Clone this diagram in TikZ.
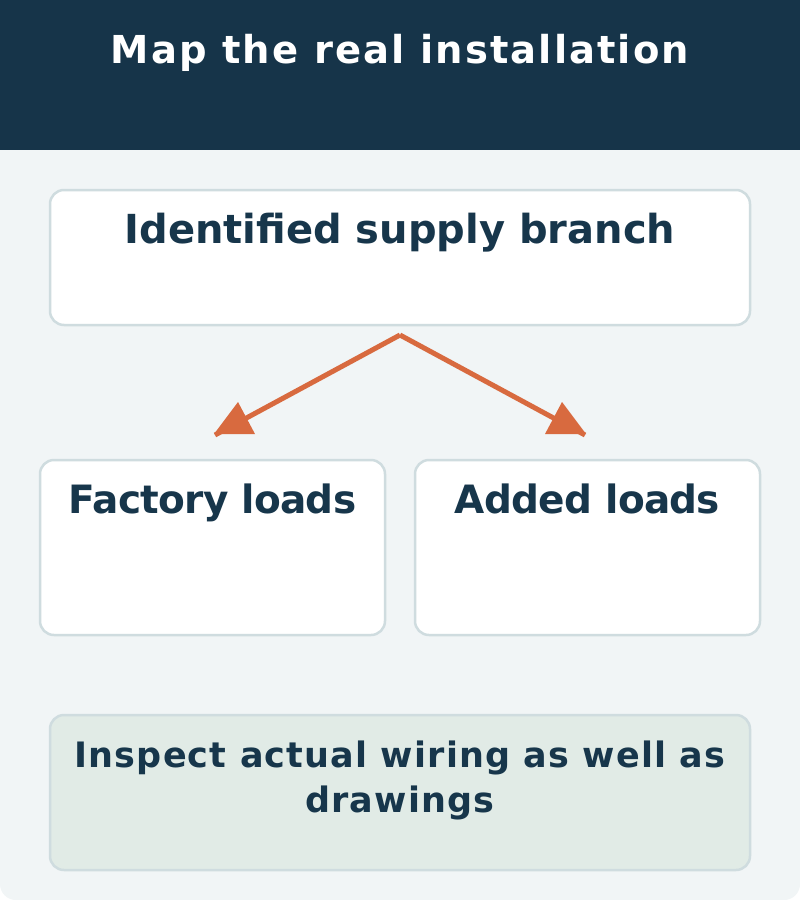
\documentclass[tikz,border=0pt]{standalone}
\usepackage{fontspec}
\setmainfont{DejaVu Sans}
\newfontfamily\titlefont{DejaVu Sans}[LetterSpace=5.5]
\newfontfamily\tightfont{DejaVu Sans}[LetterSpace=-1.8]
\newfontfamily\notefont{DejaVu Sans}[LetterSpace=3.4]
\definecolor{hdr}{HTML}{163449}
\definecolor{bgc}{HTML}{F1F5F6}
\definecolor{bord}{HTML}{CFDCDF}
\definecolor{note}{HTML}{E1EBE6}
\definecolor{txt}{HTML}{17364B}
\definecolor{arr}{HTML}{D86A3F}
\begin{document}
\begin{tikzpicture}[x=1pt,y=-1pt,
  card/.style={draw=bord,line width=2.5pt,rounded corners=14pt},
  head/.style={anchor=base,text=txt,font=\fontsize{40}{48}\selectfont\bfseries,inner sep=0pt},
  link/.style={draw=arr,line width=5pt},
  tip/.style={fill=arr}]
\useasboundingbox (0,0) rectangle (800,900);
\fill[white] (0,0) rectangle (800,900);
\fill[bgc,rounded corners=16pt] (0,0) rectangle (800,900);
\fill[hdr] (0,0) rectangle (800,150);
\node[anchor=base,text=white,font=\titlefont\fontsize{38.5}{45}\selectfont\bfseries,inner sep=0pt] (title) at (400,63) {Map the real installation};
\draw[card,fill=white] (50,190) rectangle (750,325);
\node[head] (branch) at (400,243) {Identified supply branch};
\draw[card,fill=white] (40,460) rectangle (385,635);
\node[head,font=\tightfont\fontsize{39}{47}\selectfont\bfseries] (factory) at (212.5,513) {Factory loads};
\draw[card,fill=white] (415,460) rectangle (760,635);
\node[head,font=\tightfont\fontsize{39}{47}\selectfont\bfseries] (added) at (587.5,513) {Added loads};
\draw[card,fill=note] (50,715) rectangle (750,870);
\node[head,font=\notefont\fontsize{35}{45}\selectfont\bfseries] (insp1) at (400,767) {Inspect actual wiring as well as};
\node[head,font=\notefont\fontsize{35}{45}\selectfont\bfseries] (insp2) at (400,812) {drawings};
\coordinate (src) at (400,335);
\coordinate (lend) at (215,435);
\coordinate (rend) at (585,435);
\draw[link] (src) -- (lend);
\draw[link] (src) -- (rend);
\fill[tip] (214,434) -- (238,402) -- (255,434) -- cycle;
\fill[tip] (545,434) -- (562,402) -- (586,434) -- cycle;
\end{tikzpicture}
\end{document}
